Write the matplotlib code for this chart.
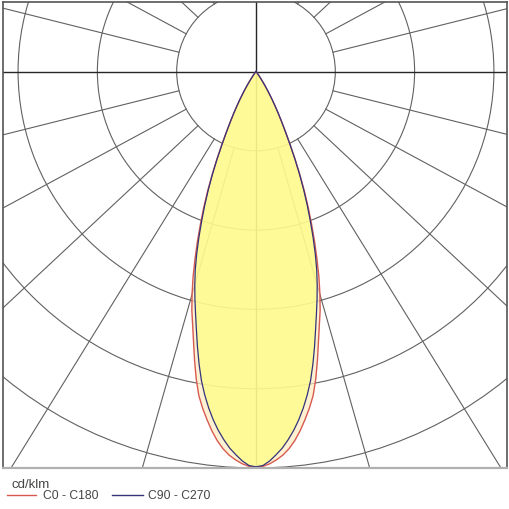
import numpy as np
import matplotlib
matplotlib.use("Agg")
import matplotlib.pyplot as plt
from matplotlib.patches import Circle
from matplotlib.lines import Line2D

plt.rcParams['font.family'] = ['Liberation Sans', 'DejaVu Sans']

# ---- data (cd/klm), gamma in degrees from nadir; symmetric planes ----
gamma = [0, 1, 2, 3, 4, 5, 6, 7, 8, 9, 10, 11, 12, 13, 14, 15, 16, 17, 18, 19,
         20, 21, 22, 23, 24, 25, 26, 27, 28, 29, 30, 31, 32, 33, 34, 35, 36, 37,
         38, 39, 40, 50, 60, 70, 80, 90]
c0_c180 = [998, 996, 990, 981, 970, 955, 936, 913, 887, 860, 830, 790, 745, 700,
           660, 625, 585, 543, 498, 454, 410, 368, 326, 284, 243, 205, 172, 144,
           120, 99, 80, 63, 48, 35, 24, 16, 10, 6, 3, 1, 0, 0, 0, 0, 0, 0]
c90_c270 = [997, 994, 983, 968, 952, 932, 910, 885, 857, 826, 792, 752, 710, 668,
            630, 595, 560, 524, 484, 442, 400, 360, 320, 280, 240, 202, 170, 143,
            120, 99, 80, 63, 48, 35, 24, 16, 10, 6, 3, 1, 0, 0, 0, 0, 0, 0]
unit_label = "cd/klm"
legend_labels = ["C0 - C180", "C90 - C270"]
ring_values = [200, 400, 600, 800, 1000]
radial_angles = [15, 30, 45, 60, 75, 105, 120, 135, 150, 165]

# ---- style ----
RED = "#d65a50"
NAVY = "#34347a"
GRID = "#616161"
AXIS = "#262626"
TEXT = "#454545"
GRID_X_STRETCH = 1.07

fig = plt.figure(figsize=(5.1, 5.1), dpi=100)
ax = fig.add_axes([3 / 510, 41 / 510, 504 / 510, 466 / 510])
ax.set_xlim(-638, 633)
ax.set_ylim(-1000, 175.3)
ax.set_xticks([])
ax.set_yticks([])
for name, sp in ax.spines.items():
    sp.set_color("#555555")
    sp.set_linewidth(1.2)
    sp.set_zorder(10)
ax.spines['bottom'].set_color("#b0b0b0")
ax.spines['bottom'].set_linewidth(1.6)

# grid circles
for rv in ring_values:
    ax.add_patch(Circle((0, 0), rv, fill=False, edgecolor=GRID, lw=0.8, zorder=1))

# radial lines (outside the first ring)
r0 = ring_values[0]
for a in radial_angles:
    for side in (-1, 1):
        t = np.radians(a)
        d = np.array([side * GRID_X_STRETCH * np.sin(t), -np.cos(t)])
        d = d / np.hypot(*d)
        ax.plot([r0 * d[0], 3000 * d[0]], [r0 * d[1], 3000 * d[1]],
                color=GRID, lw=0.8, zorder=1)

# central cross
ax.axhline(0, color=AXIS, lw=1.0, zorder=1.5)
ax.axvline(0, color=AXIS, lw=1.0, zorder=1.5)


def polar_curve(vals):
    g = np.radians(np.asarray(gamma, dtype=float))
    v = np.asarray(vals, dtype=float)
    # right half (C0 / C90), then left half mirrored (C180 / C270)
    xr = v * np.sin(g)
    yr = -v * np.cos(g)
    x = np.concatenate([-xr[::-1], xr[1:]])
    y = np.concatenate([yr[::-1], yr[1:]])
    return x, y


xr_, yr_ = polar_curve(c0_c180)
xb_, yb_ = polar_curve(c90_c270)

ax.fill(xr_, yr_, color="#ffecc0", alpha=0.7, lw=0, zorder=2)
ax.fill(xb_, yb_, color="#ffff80", alpha=0.7, lw=0, zorder=3)
ax.plot(xr_, yr_, color=RED, lw=1.0, zorder=4)
ax.plot(xb_, yb_, color=NAVY, lw=0.9, zorder=5)

# legend / unit text in figure pixels
W = H = 510.0
fig.text(11.5 / W, 1 - 488 / H, unit_label, color=TEXT, fontsize=9.5,
         va="baseline", ha="left")
ly = 1 - 496.3 / H
fig.add_artist(Line2D([7.3 / W, 36 / W], [ly, ly], color=RED, lw=1.0))
fig.text(43 / W, ly, legend_labels[0], color=TEXT, fontsize=8.7,
         va="center", ha="left")
fig.add_artist(Line2D([111.7 / W, 142.7 / W], [ly, ly], color=NAVY, lw=1.0))
fig.text(147.7 / W, ly, legend_labels[1], color=TEXT, fontsize=8.7,
         va="center", ha="left")

fig.savefig("out.png", dpi=100)
